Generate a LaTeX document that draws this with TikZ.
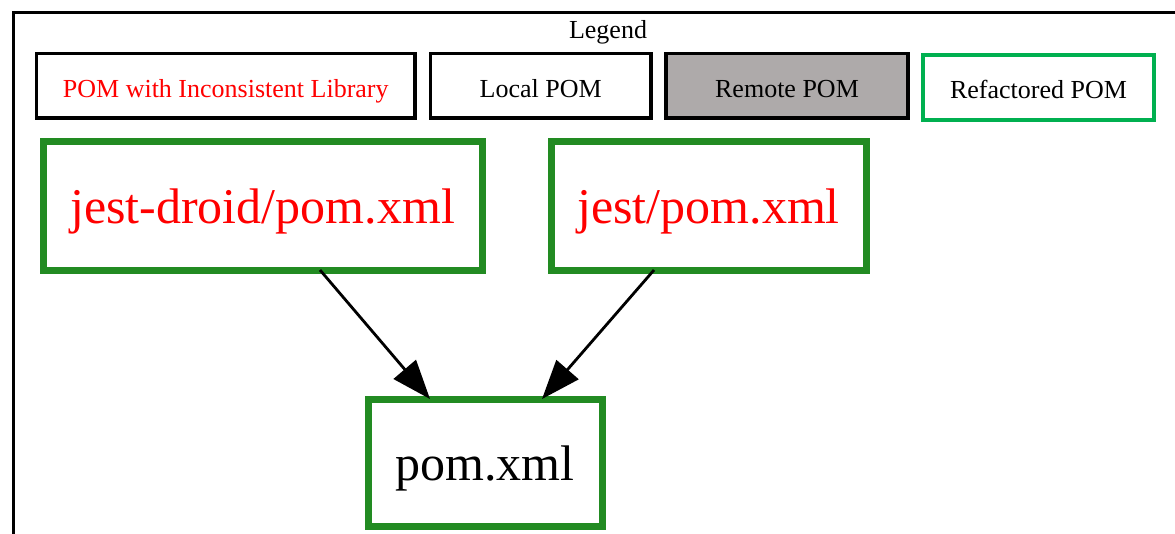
\documentclass[tikz,border=0pt]{standalone}
\usepackage{fontspec}
\setmainfont{Liberation Serif}
\usetikzlibrary{arrows.meta}
\definecolor{fgreen}{RGB}{34,139,34}
\definecolor{lgreen}{RGB}{0,176,80}
\definecolor{rgray}{RGB}{174,170,170}
\definecolor{pred}{RGB}{255,0,0}
\begin{document}
\begin{tikzpicture}[x=1pt,y=-1pt,
  legbox/.style={draw=black, line width=3.3pt, inner sep=0pt, outer sep=0pt,
    minimum height=64.5pt, text height=22.5pt, text depth=0pt,
    font=\fontsize{26}{30}\selectfont},
  pombox/.style={draw=fgreen, line width=7pt, inner sep=0pt, outer sep=0pt,
    minimum height=129pt, text height=35pt, text depth=0pt,
    font=\fontsize{50}{60}\selectfont},
  dep/.style={line width=2.8pt, -{Triangle[length=39pt,width=29pt]}}]
\useasboundingbox (0,0) rectangle (1175,533);
% frame
\draw[line width=3pt] (1185,12) -- (13,12) -- (13,545);
% legend
\node[anchor=base, font=\fontsize{26}{30}\selectfont] (legend) at (608,38) {Legend};
\node[legbox, minimum width=378.5pt, text=pred] (l1) at (225.75,85.75) {POM with Inconsistent Library};
\node[legbox, minimum width=220.5pt] (l2) at (540.75,85.75) {Local POM};
\node[legbox, minimum width=242pt, fill=rgray] (l3) at (787,85.75) {Remote POM};
\node[legbox, draw=lgreen, line width=4pt, minimum width=231pt, minimum height=65pt] (l4) at (1038.5,87) {Refactored POM};
% graph
\node[pombox, minimum width=439pt, text=pred] (A) at (262.5,205.5) {jest-droid/pom.xml};
\node[pombox, minimum width=315pt, text=pred] (B) at (708.5,205.5) {jest/pom.xml};
\node[pombox, minimum width=234pt, minimum height=127pt] (C) at (485,462.5) {pom.xml};
\draw[dep] ([xshift=57.5pt]A.south) -- ([xshift=-55pt]C.north);
\draw[dep] ([xshift=-54.5pt]B.south) -- ([xshift=57pt]C.north);
\end{tikzpicture}
\end{document}
